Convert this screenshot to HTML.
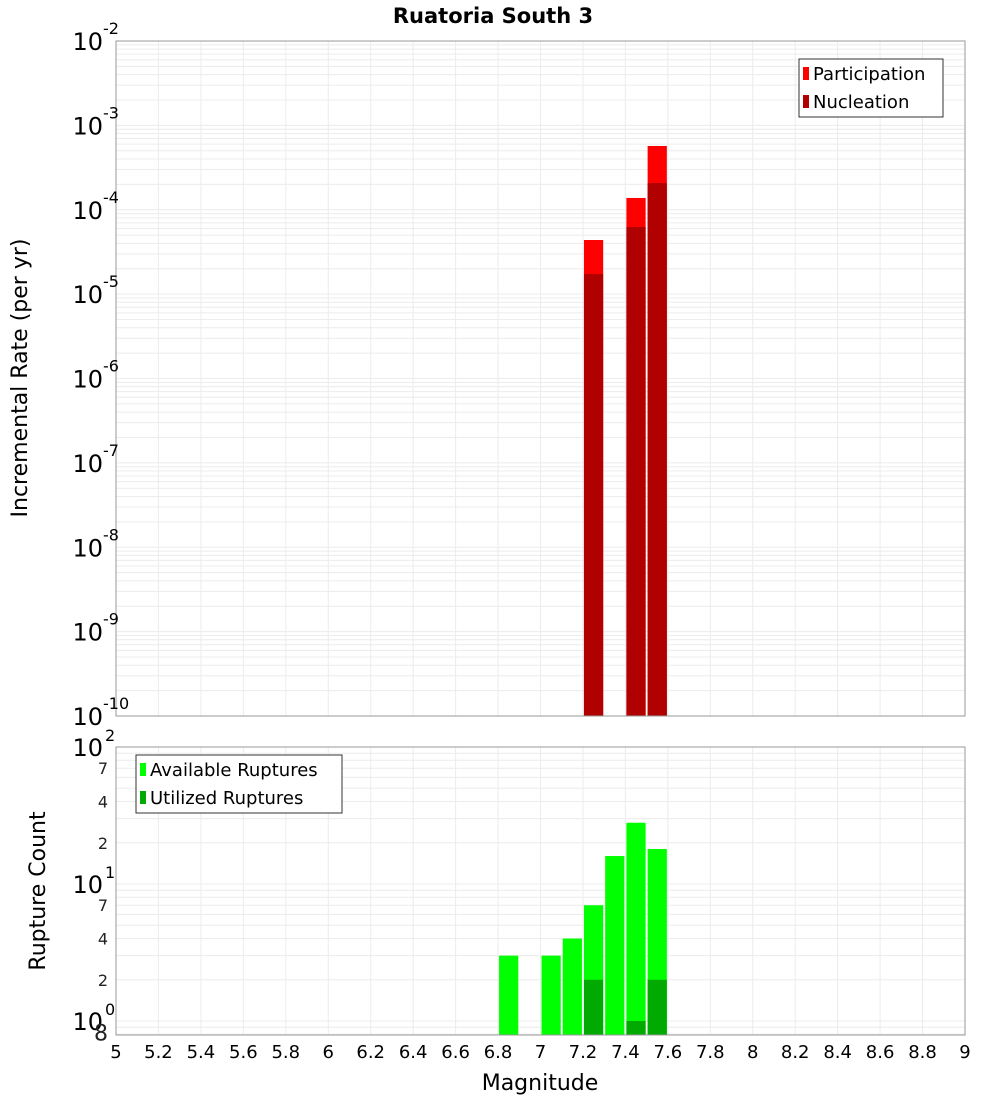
<!DOCTYPE html>
<html><head><meta charset="utf-8"><style>
body{margin:0;background:#fff;font-family:"Liberation Sans","DejaVu Sans",sans-serif}
svg text{font-family:"DejaVu Sans","Liberation Sans",sans-serif}
</style></head><body>
<svg id="c" width="1000" height="1100" xmlns="http://www.w3.org/2000/svg"></svg>
<script>
const binsTop = [7.25, 7.45, 7.55];
const participation = [4.38e-5, 1.38e-4, 5.7e-4];
const nucleation = [1.73e-5, 6.25e-5, 2.07e-4];
const binsBot = [6.85, 7.05, 7.15, 7.25, 7.35, 7.45, 7.55];
const available = [3, 3, 4, 7, 16, 28, 18];
const utilizedBins = [7.25, 7.45, 7.55];
const utilized = [2, 1, 2];
const xTicks = [5,5.2,5.4,5.6,5.8,6,6.2,6.4,6.6,6.8,7,7.2,7.4,7.6,7.8,8,8.2,8.4,8.6,8.8,9];
const topExp = [-2,-3,-4,-5,-6,-7,-8,-9,-10];
const botMinor = [2,4,7,20,40,70];

const NS="http://www.w3.org/2000/svg", svg=document.getElementById('c');
function el(t,a,p){const e=document.createElementNS(NS,t);for(const k in a)e.setAttribute(k,a[k]);(p||svg).appendChild(e);return e;}
const X0=116,X1=965;
const x=v=>X0+(v-5)/4*(X1-X0);
const T0=41,T1=716;
const yT=v=>T0+(-2-Math.log10(v))/8*(T1-T0);
const B0=747,B1=1035,BD=137,B1e=1021;
const yB=v=>B1e-Math.log10(v)*BD;

// grids
const gT=el('g',{});
const gB=el('g',{});
xTicks.forEach(t=>{
 el('line',{x1:x(t),x2:x(t),y1:T0,y2:T1,stroke:'#ececec'},gT);
 el('line',{x1:x(t),x2:x(t),y1:B0,y2:B1,stroke:'#ececec'},gB);
});
for(let e=-10;e<-2;e++)for(let m=1;m<10;m++){const y=yT(m*Math.pow(10,e));el('line',{x1:X0,x2:X1,y1:y,y2:y,stroke:'#ececec'},gT);}
for(let e=-1;e<2;e++)for(let m=1;m<10;m++){const v=m*Math.pow(10,e);const y=yB(v);if(y<B0||y>B1)continue;el('line',{x1:X0,x2:X1,y1:y,y2:y,stroke:'#ececec'},gB);}

// top bars
binsTop.forEach((b,i)=>{
 let r=el('rect',{x:x(b-0.05)+1,y:yT(participation[i]),width:x(b+0.05)-x(b-0.05)-2,height:T1-yT(participation[i]),fill:'#ff0000'});
 
 let n=el('rect',{x:x(b-0.05)+1,y:yT(nucleation[i]),width:x(b+0.05)-x(b-0.05)-2,height:T1-yT(nucleation[i]),fill:'#b00000'});
 
});
binsBot.forEach((b,i)=>{
 let r=el('rect',{x:x(b-0.05)+1,y:yB(available[i]),width:x(b+0.05)-x(b-0.05)-2,height:B1-yB(available[i]),fill:'#00ff00'});
 
});
utilizedBins.forEach((b,i)=>{
 let r=el('rect',{x:x(b-0.05)+1,y:yB(utilized[i]),width:x(b+0.05)-x(b-0.05)-2,height:B1-yB(utilized[i]),fill:'#00aa00'});
 
});

// frames
let f1=el('rect',{x:X0,y:T0,width:X1-X0,height:T1-T0,fill:'none',stroke:'#999'});

let f2=el('rect',{x:X0,y:B0,width:X1-X0,height:B1-B0,fill:'none',stroke:'#999'});


// top y ticks
topExp.forEach(e=>{
 const y=yT(Math.pow(10,e));
 const t=el('text',{x:103,y:y+9,'text-anchor':'end','font-size':24,fill:'#000'});
 
 t.textContent='10';
 const s=el('text',{x:103,y:y-7,'font-size':16,fill:'#000'});
 
 s.textContent=String(e);
});
// bottom y ticks
[0,1,2].forEach(e=>{
 const y=yB(Math.pow(10,e));
 const t=el('text',{x:103,y:y+9,'text-anchor':'end','font-size':24,fill:'#000'});
 
 t.textContent='10';
 const s=el('text',{x:105,y:y-6,'font-size':16,fill:'#000'});
 
 s.textContent=String(e);
});
botMinor.concat([0.8]).forEach(v=>{
 const y=yB(v);
 const t=el('text',{x:108,y:y+6,'text-anchor':'end','font-size':v==0.8?22:16,fill:'#222'});
 
 t.textContent=v==0.8?'8':String(v).replace(/0$/,'');
});
// x ticks
xTicks.forEach(v=>{
 const t=el('text',{x:x(v),y:1058,'text-anchor':'middle','font-size':18,fill:'#000'});
 
 t.textContent=String(v);
});
</script>
<svg style="position:absolute;left:0;top:0" width="1000" height="1100" xmlns="http://www.w3.org/2000/svg">
<text x="493" y="23" text-anchor="middle" font-size="21" font-weight="bold">Ruatoria South 3</text>
<text transform="translate(27,378) rotate(-90)" text-anchor="middle" font-size="22">Incremental Rate (per yr)</text>
<text transform="translate(45,891) rotate(-90)" text-anchor="middle" font-size="22">Rupture Count</text>
<text x="540" y="1090" text-anchor="middle" font-size="22">Magnitude</text>
<g>
<rect x="799" y="59" width="144" height="58" fill="#fff" stroke="#333"/>
<rect x="803" y="67" width="6" height="13" fill="#ff0000"/>
<text x="813" y="80" font-size="18">Participation</text>
<rect x="803" y="95" width="6" height="13" fill="#b00000"/>
<text x="813" y="108" font-size="18">Nucleation</text>
</g>
<g>
<rect x="136" y="755" width="206" height="58" fill="#fff" stroke="#333"/>
<rect x="140" y="763" width="6" height="13" fill="#00ff00"/>
<text x="150" y="776" font-size="18">Available Ruptures</text>
<rect x="140" y="791" width="6" height="13" fill="#00aa00"/>
<text x="150" y="804" font-size="18">Utilized Ruptures</text>
</g>
</svg>
</body></html>
